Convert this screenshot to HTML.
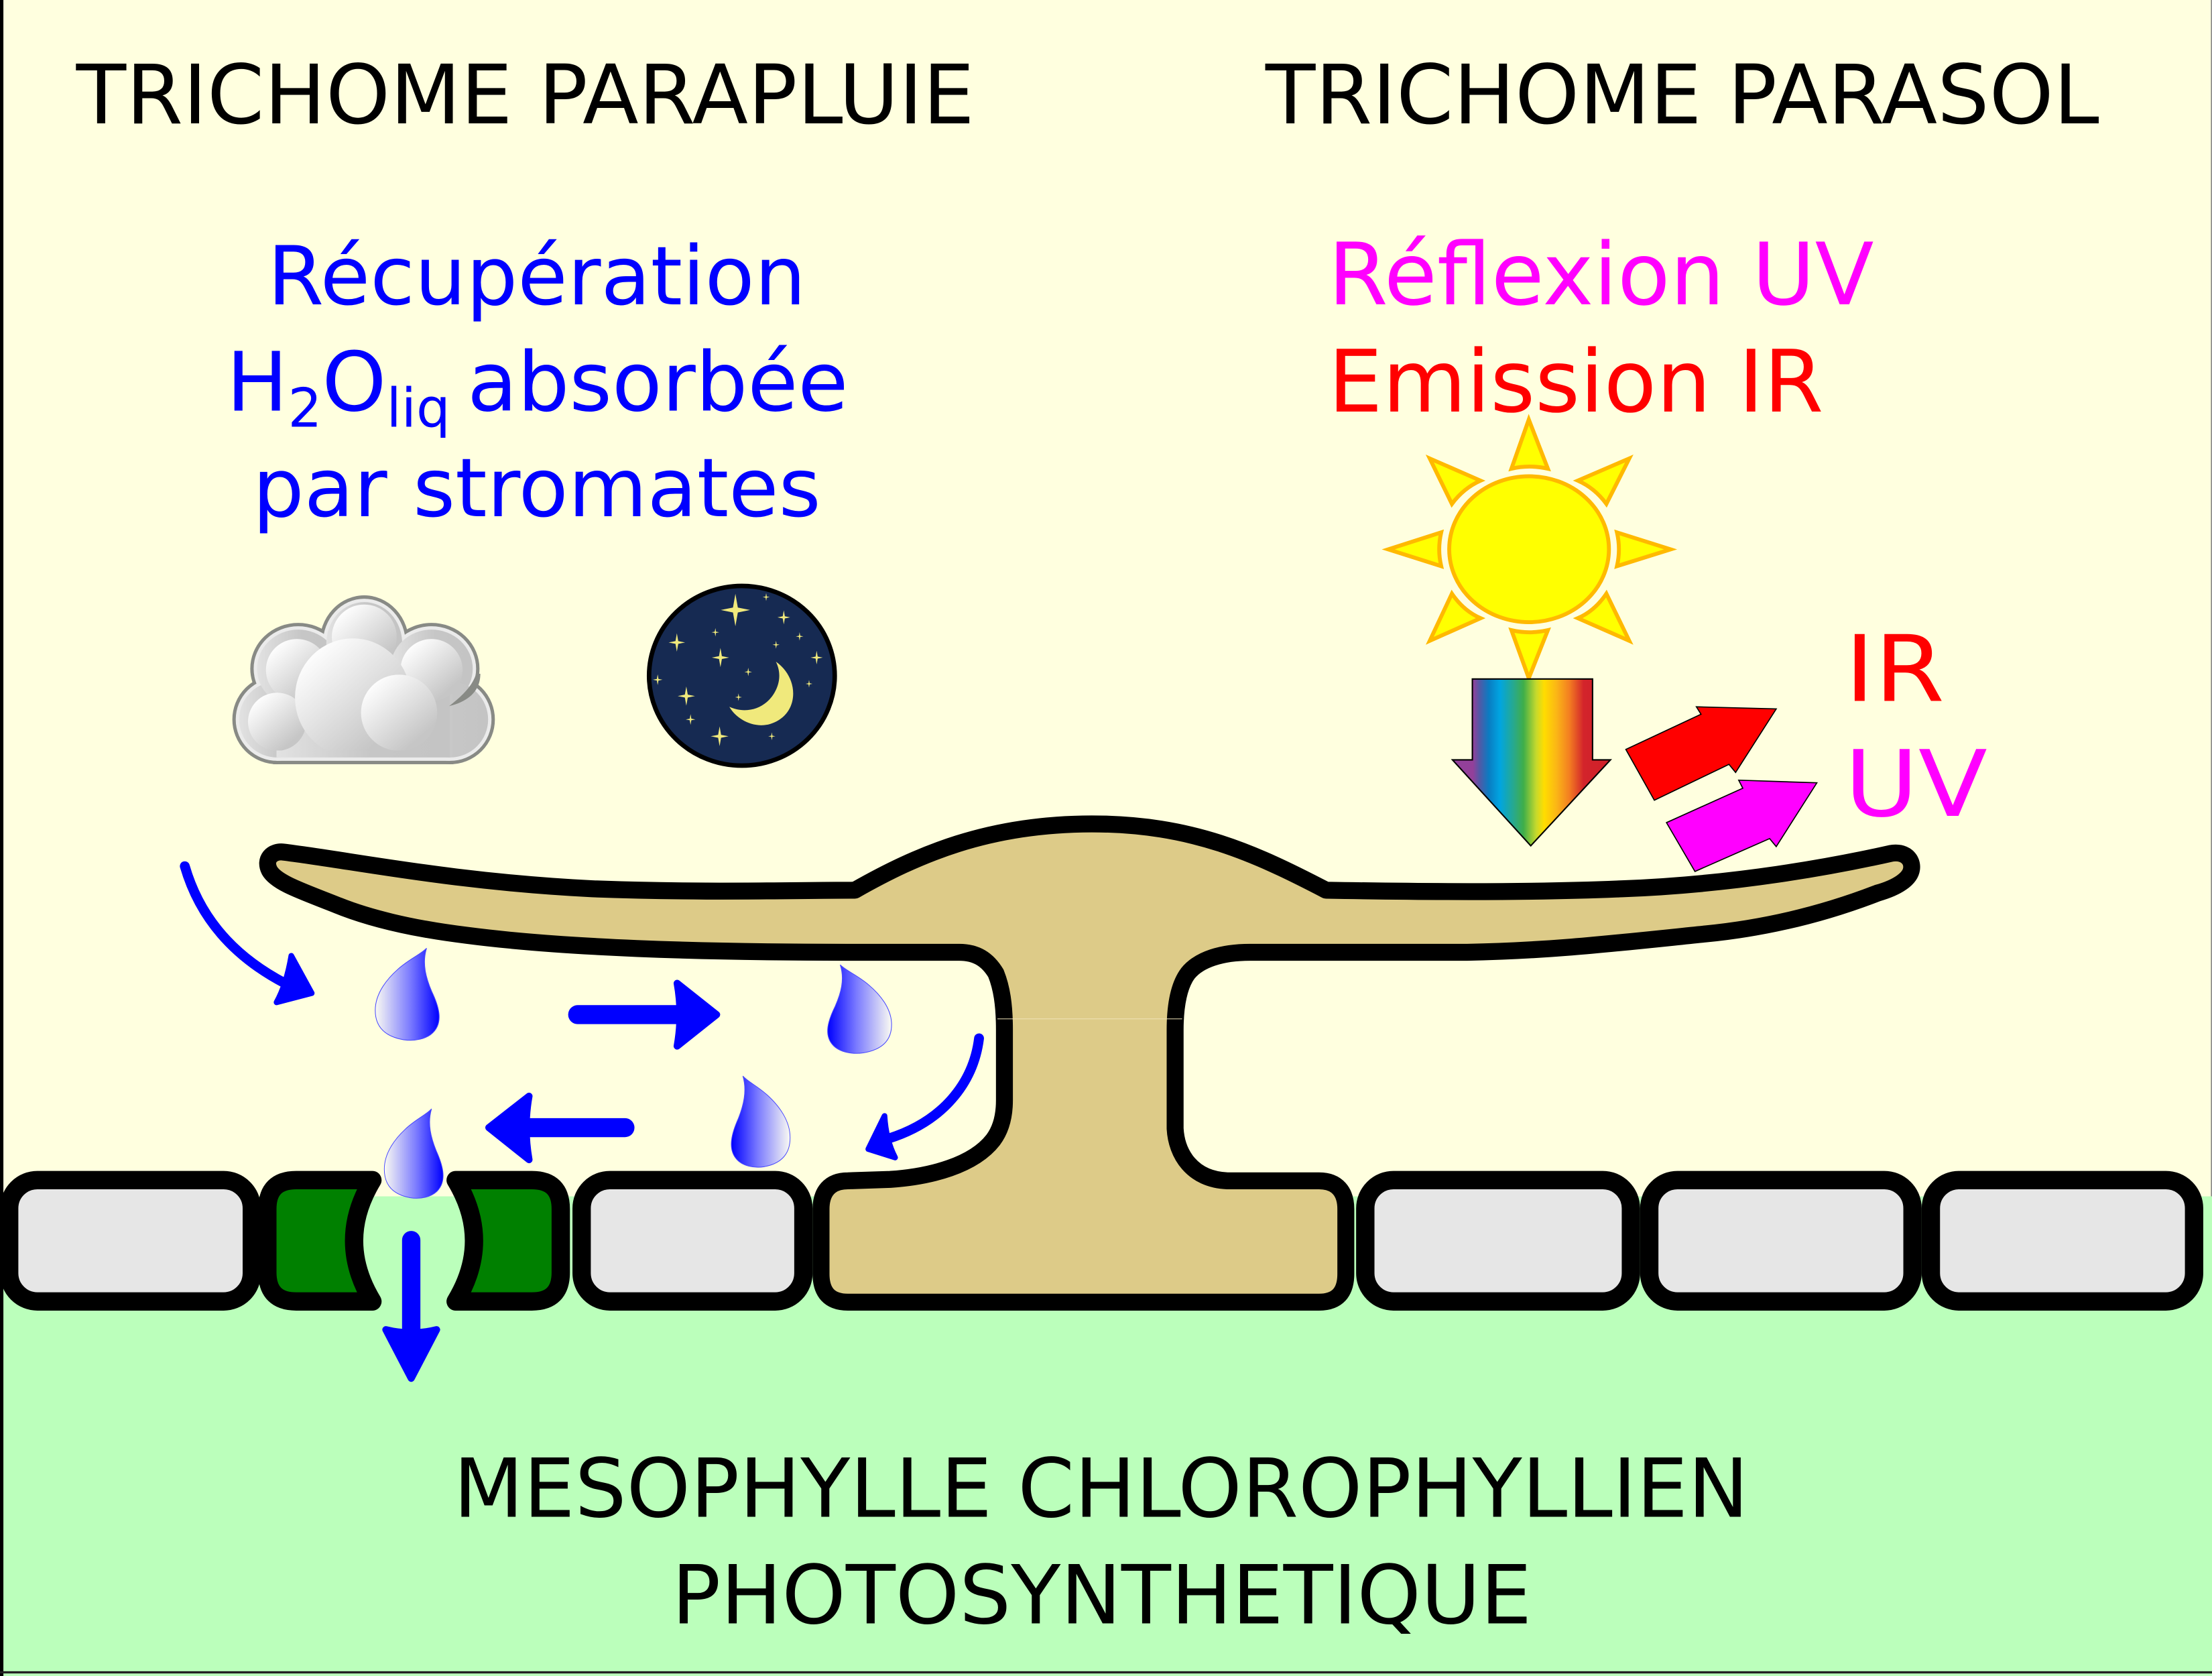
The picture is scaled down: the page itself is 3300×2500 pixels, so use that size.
<!DOCTYPE html>
<html><head><meta charset="utf-8"><style>
html,body{margin:0;padding:0;background:#ffffdf;overflow:hidden;}
svg{display:block;}
text{font-family:"DejaVu Sans","Liberation Sans",sans-serif;}
</style></head><body>
<svg xmlns="http://www.w3.org/2000/svg" width="3300" height="2500" viewBox="0 0 1568 1188" preserveAspectRatio="none">
<defs>
 <linearGradient id="drop" x1="0" y1="0" x2="1" y2="0">
  <stop offset="0" stop-color="#fbfbf2"/>
  <stop offset="0.55" stop-color="#7a7aff"/>
  <stop offset="1" stop-color="#0000ff"/>
 </linearGradient>
 <linearGradient id="rainbow" x1="0" y1="0" x2="1" y2="0">
  <stop offset="0" stop-color="#93409a"/>
  <stop offset="0.13" stop-color="#93409a"/>
  <stop offset="0.17" stop-color="#5358a6"/>
  <stop offset="0.23" stop-color="#0a7cc2"/>
  <stop offset="0.30" stop-color="#00a5e1"/>
  <stop offset="0.39" stop-color="#29a98a"/>
  <stop offset="0.45" stop-color="#3fae49"/>
  <stop offset="0.53" stop-color="#c6d92d"/>
  <stop offset="0.58" stop-color="#ffdd00"/>
  <stop offset="0.66" stop-color="#fbb516"/>
  <stop offset="0.74" stop-color="#f37e21"/>
  <stop offset="0.83" stop-color="#d3242b"/>
  <stop offset="1" stop-color="#d01f2a"/>
 </linearGradient>
 <linearGradient id="clb" x1="0" y1="0" x2="1" y2="0">
  <stop offset="0" stop-color="#e2e2e2"/>
  <stop offset="0.55" stop-color="#c6c6c6"/>
  <stop offset="1" stop-color="#c4c4c4"/>
 </linearGradient>
 <linearGradient id="clh" x1="0.15" y1="0.1" x2="0.85" y2="0.9">
  <stop offset="0" stop-color="#ffffff"/>
  <stop offset="0.9" stop-color="#c6c6c6"/>
 </linearGradient>
 <clipPath id="clcut"><rect x="150" y="400" width="220" height="132"/></clipPath>
</defs>

<!-- backgrounds -->
<rect x="0" y="0" width="1568" height="1188" fill="#ffffdf"/>
<rect x="0" y="848" width="1568" height="340" fill="#bbffbb"/>
<line x1="1567.6" y1="0" x2="1567.6" y2="848" stroke="#888" stroke-width="0.8"/>
<rect x="0" y="0" width="2.4" height="1188" fill="#000"/>
<rect x="0" y="1184.6" width="1568" height="1.6" fill="#222"/>

<!-- titles -->
<text x="54" y="87.4" font-size="58" fill="#000">TRICHOME PARAPLUIE</text>
<text x="897" y="87.4" font-size="58" fill="#000">TRICHOME PARASOL</text>

<text x="380.5" y="215.8" font-size="57.5" fill="#0000ff" text-anchor="middle">Récupération</text>
<text x="380.9" y="291.1" font-size="58" fill="#0000ff" text-anchor="middle">H<tspan font-size="38" dy="11.4">2</tspan><tspan dy="-11.4">O</tspan><tspan font-size="38" dy="11.4">liq&#160;</tspan><tspan dy="-11.4">absorbée</tspan></text>
<text x="380.5" y="366" font-size="57.5" fill="#0000ff" text-anchor="middle">par stromates</text>

<text x="941.5" y="215.7" font-size="61" fill="#ff00ff">Réflexion UV</text>
<text x="941.5" y="291.7" font-size="61" fill="#ff0000">Emission IR</text>

<text x="0" y="0" font-size="65" fill="#ff0000" transform="translate(1307.7,496.8) scale(1.1,1)">IR</text>
<text x="0" y="0" font-size="65" fill="#ff00ff" transform="translate(1307.5,578.3) scale(1.1,1)">UV</text>

<text x="780.5" y="1075.2" font-size="57.6" fill="#000" text-anchor="middle">MESOPHYLLE CHLOROPHYLLIEN</text>
<text x="781" y="1150.8" font-size="57.6" fill="#000" text-anchor="middle">PHOTOSYNTHETIQUE</text>

<!-- cloud -->
<g fill="#888a85" stroke="#888a85" stroke-width="4.8">
 <circle cx="196.4" cy="510" r="29.3"/>
 <ellipse cx="211.4" cy="474" rx="31.6" ry="30.1"/>
 <ellipse cx="258.2" cy="456" rx="29.3" ry="31.6"/>
 <ellipse cx="305.9" cy="474" rx="31.6" ry="30.1"/>
 <circle cx="319.1" cy="510" r="29.3"/>
 <rect x="196" y="480" width="123" height="59.3"/>
</g>
<g fill="#ebebeb">
 <circle cx="196.4" cy="510" r="29.3"/>
 <ellipse cx="211.4" cy="474" rx="31.6" ry="30.1"/>
 <ellipse cx="258.2" cy="456" rx="29.3" ry="31.6"/>
 <ellipse cx="305.9" cy="474" rx="31.6" ry="30.1"/>
 <circle cx="319.1" cy="510" r="29.3"/>
 <rect x="196" y="480" width="123" height="59.3"/>
</g>
<g fill="url(#clb)">
 <circle cx="196.4" cy="510" r="26.9"/>
 <ellipse cx="211.4" cy="474" rx="29.2" ry="27.7"/>
 <ellipse cx="258.2" cy="456" rx="26.9" ry="29.2"/>
 <ellipse cx="305.9" cy="474" rx="29.2" ry="27.7"/>
 <circle cx="319.1" cy="510" r="26.9"/>
 <rect x="196" y="480" width="123" height="56.9"/>
</g>
<g fill="url(#clh)" clip-path="url(#clcut)">
 <circle cx="258.2" cy="451.5" r="23"/>
 <circle cx="210.5" cy="474.9" r="22"/>
 <circle cx="305.9" cy="474.9" r="22"/>
 <circle cx="196.4" cy="511.6" r="20.6"/>
 <ellipse cx="250.1" cy="494.5" rx="41" ry="42"/>
 <circle cx="282.9" cy="505.2" r="27"/>
</g>
<path d="M337.5,477.6 L340.5,477.6 C340.5,489 333,497 318.4,500.5 C328,493 335,486 337.5,477.6 Z" fill="#888a85"/>

<!-- night -->
<ellipse cx="525.9" cy="479" rx="65.8" ry="63.7" fill="#162a52" stroke="#000" stroke-width="3.2"/>
<path d="M550,469 C566,480 567,504 549,512 C536,518 522,510 517,501 C528,506 540,503 547,494 C553,486 554,477 550,469 Z" fill="#f0e97c"/>
<g fill="#f0e97c">
 <path d="M0,-1 L0.15,-0.15 L0.9,0 L0.15,0.15 L0,1 L-0.15,0.15 L-0.9,0 L-0.15,-0.15 Z" transform="translate(521.3,432.4) scale(11.5)"/>
 <path d="M0,-1 L0.15,-0.15 L0.9,0 L0.15,0.15 L0,1 L-0.15,0.15 L-0.9,0 L-0.15,-0.15 Z" transform="translate(543.1,423.2) scale(2.8)"/>
 <path d="M0,-1 L0.15,-0.15 L0.9,0 L0.15,0.15 L0,1 L-0.15,0.15 L-0.9,0 L-0.15,-0.15 Z" transform="translate(555.6,437.6) scale(5)"/>
 <path d="M0,-1 L0.15,-0.15 L0.9,0 L0.15,0.15 L0,1 L-0.15,0.15 L-0.9,0 L-0.15,-0.15 Z" transform="translate(507.1,448.2) scale(3)"/>
 <path d="M0,-1 L0.15,-0.15 L0.9,0 L0.15,0.15 L0,1 L-0.15,0.15 L-0.9,0 L-0.15,-0.15 Z" transform="translate(479.8,455.4) scale(6.5)"/>
 <path d="M0,-1 L0.15,-0.15 L0.9,0 L0.15,0.15 L0,1 L-0.15,0.15 L-0.9,0 L-0.15,-0.15 Z" transform="translate(566.8,451.1) scale(3)"/>
 <path d="M0,-1 L0.15,-0.15 L0.9,0 L0.15,0.15 L0,1 L-0.15,0.15 L-0.9,0 L-0.15,-0.15 Z" transform="translate(550.1,457) scale(2.8)"/>
 <path d="M0,-1 L0.15,-0.15 L0.9,0 L0.15,0.15 L0,1 L-0.15,0.15 L-0.9,0 L-0.15,-0.15 Z" transform="translate(510.7,466.1) scale(6.8)"/>
 <path d="M0,-1 L0.15,-0.15 L0.9,0 L0.15,0.15 L0,1 L-0.15,0.15 L-0.9,0 L-0.15,-0.15 Z" transform="translate(578.9,466.1) scale(4.8)"/>
 <path d="M0,-1 L0.15,-0.15 L0.9,0 L0.15,0.15 L0,1 L-0.15,0.15 L-0.9,0 L-0.15,-0.15 Z" transform="translate(530.4,476.3) scale(3)"/>
 <path d="M0,-1 L0.15,-0.15 L0.9,0 L0.15,0.15 L0,1 L-0.15,0.15 L-0.9,0 L-0.15,-0.15 Z" transform="translate(466.2,481.8) scale(3.8)"/>
 <path d="M0,-1 L0.15,-0.15 L0.9,0 L0.15,0.15 L0,1 L-0.15,0.15 L-0.9,0 L-0.15,-0.15 Z" transform="translate(573.5,484.7) scale(2.7)"/>
 <path d="M0,-1 L0.15,-0.15 L0.9,0 L0.15,0.15 L0,1 L-0.15,0.15 L-0.9,0 L-0.15,-0.15 Z" transform="translate(486.5,493.4) scale(6.8)"/>
 <path d="M0,-1 L0.15,-0.15 L0.9,0 L0.15,0.15 L0,1 L-0.15,0.15 L-0.9,0 L-0.15,-0.15 Z" transform="translate(523.5,494.2) scale(2.7)"/>
 <path d="M0,-1 L0.15,-0.15 L0.9,0 L0.15,0.15 L0,1 L-0.15,0.15 L-0.9,0 L-0.15,-0.15 Z" transform="translate(489.5,510) scale(3.8)"/>
 <path d="M0,-1 L0.15,-0.15 L0.9,0 L0.15,0.15 L0,1 L-0.15,0.15 L-0.9,0 L-0.15,-0.15 Z" transform="translate(510.1,521.9) scale(7)"/>
 <path d="M0,-1 L0.15,-0.15 L0.9,0 L0.15,0.15 L0,1 L-0.15,0.15 L-0.9,0 L-0.15,-0.15 Z" transform="translate(547.1,521.9) scale(2.8)"/>
</g>

<!-- sun -->
<g fill="#ffff00" stroke="#ffb900" stroke-width="2.8" stroke-linejoin="miter">
 <path d="M1083.7,297.4 L1097.2,332.2 Q1084,329.2 1071.4,332.2 Z"/>
 <path d="M1083.7,480.7 L1097.2,446.7 Q1084,449.7 1071.4,446.7 Z"/>
 <path d="M984.1,389.4 L1021.6,377.4 Q1018.8,389.4 1021.6,401.3 Z"/>
 <path d="M1184.2,389.4 L1146.2,377.4 Q1149,389.4 1146.2,401.3 Z"/>
 <path d="M1013.5,325 L1049.5,340.7 Q1037.5,346 1029.2,357.2 Z"/>
 <path d="M1154.9,325 L1118.5,340.7 Q1130.5,346 1138.7,357.2 Z"/>
 <path d="M1013.5,454.2 L1049.5,438.2 Q1037.5,433 1029.2,420.8 Z"/>
 <path d="M1154.9,454.2 L1118.5,438.2 Q1130.5,433 1138.7,420.8 Z"/>
 <ellipse cx="1083.9" cy="389.3" rx="56.6" ry="51.7"/>
</g>

<!-- rainbow arrow -->
<path d="M1043.7,481.3 L1128.9,481.3 L1128.9,538.6 L1141.6,538.6 L1085.1,599.5 L1029.6,538.6 L1043.7,538.6 Z" fill="url(#rainbow)" stroke="#000" stroke-width="1"/>

<!-- reflected arrows -->
<path d="M1152.5,531.2 L1205.8,506.3 L1202.5,501 L1259.1,502.5 L1230.3,547.5 L1225.6,541.8 L1172.7,567.2 Z" fill="#ff0000" stroke="#000" stroke-width="0.8"/>
<path d="M1181.3,583.1 L1235.4,558.7 L1232.5,553 L1287.9,554.9 L1259.1,600.1 L1254.4,594.4 L1201.5,617.7 Z" fill="#ff00ff" stroke="#000" stroke-width="0.8"/>

<!-- epidermis cells -->
<g fill="#e6e6e6" stroke="#000" stroke-width="13">
 <rect x="6.5" y="836.5" width="172" height="86" rx="20" ry="20"/>
 <rect x="412.3" y="836.5" width="157.2" height="86" rx="20" ry="20"/>
 <rect x="967.8" y="836.5" width="188.3" height="86" rx="20" ry="20"/>
 <rect x="1169.1" y="836.5" width="186.6" height="86" rx="20" ry="20"/>
 <rect x="1368.7" y="836.5" width="186.6" height="86" rx="20" ry="20"/>
</g>
<!-- guard cells -->
<g fill="#008000" stroke="#000" stroke-width="13" stroke-linejoin="round">
 <path d="M264,836.5 Q238,879.5 264,922.5 L210,922.5 Q189.5,922.5 189.5,902 L189.5,857 Q189.5,836.5 210,836.5 Z"/>
 <path d="M323,836.5 Q349,879.5 323,922.5 L377,922.5 Q397.5,922.5 397.5,902 L397.5,857 Q397.5,836.5 377,836.5 Z"/>
</g>

<!-- trichome -->
<path d="M201,604 C250,610 320,625 420,630 C500,633 560,631 606,631 C650,606 700,584 774,584 C845,584 890,605 940,631 C1000,632 1080,633 1150,630 C1230,627 1300,614 1340,605 C1350,603 1356,609 1355,616 C1354,623 1345,629 1331,633 C1300,645 1260,657 1209,662 C1150,668 1100,674 1040,675 L886,675 C866,675 850,680 842,690 C836,698 833,712 833,730 L833,800 C834,818 845,836 870,837 L935,837 C948,837 954,845 954,857 L954,903 C954,916 948,923 935,923 L601,923 C588,923 582,916 582,903 L582,857 C582,845 588,837 601,837 L631,836 C660,834 690,826 704,808 C710,800 712,790 712,780 L712,730 C712,712 710,700 706,690 C700,680 692,675 680,675 L600,675 C500,675 400,672 331,663 C290,658 260,650 240,642 C215,632 196,626 191,617 C187,609 193,603 201,604 Z" fill="#ddcb88" stroke="#000" stroke-width="12" stroke-linejoin="round"/>
<line x1="707" y1="722.2" x2="838" y2="722.2" stroke="#efe4b8" stroke-width="0.6" opacity="0.8"/>

<!-- water drops -->
<g fill="url(#drop)" stroke="#4a4aff" stroke-width="0.5">
 <path d="M12.4,-62.4 C9,-52 12,-42 16,-33 C21,-23 24,-13 18,-6 C13,0 3,1 -4,0 C-16,-2 -24,-8 -24,-20 C-24,-32 -15,-42 -8,-48 C0,-55 8,-58 12.4,-62.4 Z" transform="translate(290,737) scale(1,1.04)"/>
 <path d="M12.4,-62.4 C9,-52 12,-42 16,-33 C21,-23 24,-13 18,-6 C13,0 3,1 -4,0 C-16,-2 -24,-8 -24,-20 C-24,-32 -15,-42 -8,-48 C0,-55 8,-58 12.4,-62.4 Z" transform="translate(608,746.3) scale(-1,1)"/>
 <path d="M12.4,-62.4 C9,-52 12,-42 16,-33 C21,-23 24,-13 18,-6 C13,0 3,1 -4,0 C-16,-2 -24,-8 -24,-20 C-24,-32 -15,-42 -8,-48 C0,-55 8,-58 12.4,-62.4 Z" transform="translate(538,827) scale(-0.92,1.03)"/>
 <path d="M12.4,-62.4 C9,-52 12,-42 16,-33 C21,-23 24,-13 18,-6 C13,0 3,1 -4,0 C-16,-2 -24,-8 -24,-20 C-24,-32 -15,-42 -8,-48 C0,-55 8,-58 12.4,-62.4 Z" transform="translate(294.5,849) scale(0.92,1.01)"/>
</g>

<!-- blue arrows -->
<g stroke="#0000ff" fill="none" stroke-linecap="round">
 <path d="M131,614 C140,645 160,675 202,697" stroke-width="7"/>
 <path d="M694,736 C690,768 668,795 630,807" stroke-width="7"/>
 <path d="M409.5,719.2 L484,719.2" stroke-width="13.5"/>
 <path d="M443,799.3 L372,799.3" stroke-width="13.5"/>
 <path d="M291.5,879 L291.5,946" stroke-width="13"/>
</g>
<g fill="#0000ff" stroke="#0000ff" stroke-linejoin="round">
 <path d="M221,704 L206.5,677.5 Q203,698 196,710.5 Z" stroke-width="4"/>
 <path d="M615.5,814.5 L627,791 Q628,808 634.5,820.5 Z" stroke-width="4"/>
 <path d="M508,719.2 L480,697 Q484,719.2 480,741.5 Z" stroke-width="5"/>
 <path d="M346.5,799.3 L375,777 Q371,799.3 375,822 Z" stroke-width="5"/>
 <path d="M291.5,977 L273.5,942.5 Q291.5,947 309.5,942.5 Z" stroke-width="5"/>
</g>
</svg>
</body></html>
